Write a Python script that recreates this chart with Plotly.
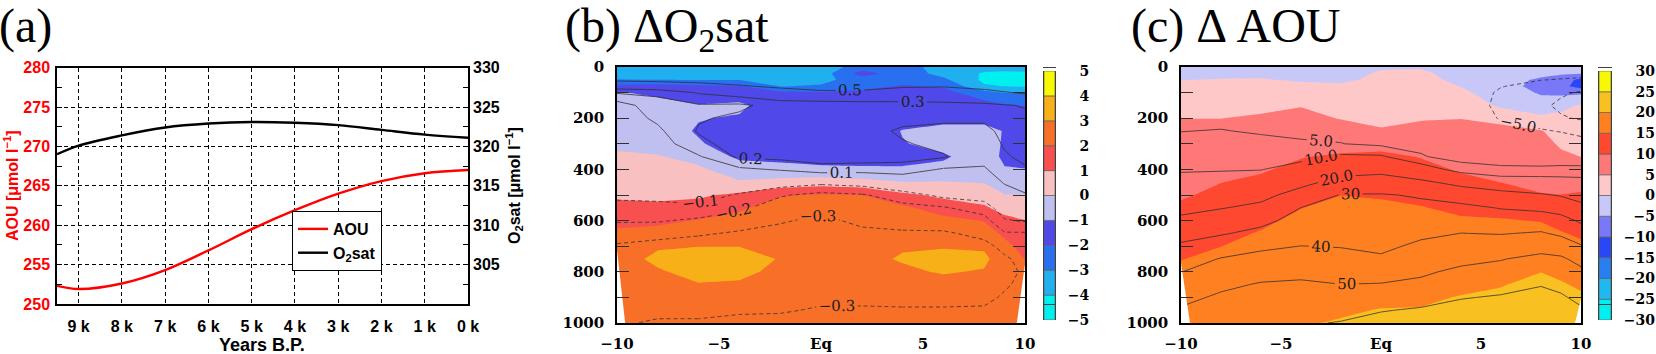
import plotly.graph_objects as go

W, H = 1656, 354

# ── (a) basin-mean time series ─────────────────────────────────────
YEARS = [9500, 9000, 8000, 7000, 6000, 5000, 4000, 3000, 2000, 1000, 0]
AOU   = [252.3, 251.9, 252.6, 254.3, 256.8, 259.5, 261.9, 264.0, 265.6, 266.6, 267.0]
O2SAT = [319.0, 320.1, 321.4, 322.4, 322.9, 323.1, 323.0, 322.7, 322.1, 321.5, 321.1]

YEAR_TICKS  = [9000, 8000, 7000, 6000, 5000, 4000, 3000, 2000, 1000, 0]
YEAR_TEXT   = ["9 k", "8 k", "7 k", "6 k", "5 k", "4 k", "3 k", "2 k", "1 k", "0 k"]
AOU_TICKS   = [250, 255, 260, 265, 270, 275, 280]
O2SAT_TICKS = [305, 310, 315, 320, 325, 330]

# ── (b),(c) latitude-depth sections ───────────────────────────────
LAT   = [-10, -8, -6, -4, -2, 0, 2, 4, 6, 8, 9, 10]
DEPTH = [0, 25, 50, 75, 100, 150, 200, 250, 300, 350, 400, 450, 500,
         550, 600, 650, 700, 750, 800, 850, 900, 950, 1000]
LAT_TICKS = [-10, -5, 0, 5, 10]
LAT_TEXT  = ["\u221210", "\u22125", "Eq", "5", "10"]
LAT_MINOR = [-8, -6, -4, -2, 0, 2, 4, 6, 8]
DEPTH_TICKS = [0, 200, 400, 600, 800, 1000]

# delta O2sat (shaded), one list per latitude, top to bottom
DO2SAT = [
    [-3.6, -3.5, -2.95, -1.7, -0.95, -0.7, -0.6, -0.5, -0.2, 0.15, 0.35, 0.6, 0.85, 1.25, 1.7, 2.2, 2.5, 2.6, 2.6, 2.6, 2.6, 2.5, 2.5],
    [-3.6, -3.5, -3.0, -1.6, -1.15, -0.75, -0.6, -0.5, -0.3, 0.05, 0.3, 0.55, 0.8, 1.2, 1.8, 2.3, 2.9, 3.2, 2.9, 2.7, 2.6, 2.5, 2.5],
    [-3.6, -3.5, -3.05, -1.8, -1.5, -0.95, -0.95, -1.1, -0.9, -0.3, 0.15, 0.55, 0.85, 1.4, 2.05, 2.5, 2.98, 3.4, 3.3, 2.95, 2.7, 2.6, 2.5],
    [-3.6, -3.5, -3.05, -1.9, -1.6, -0.8, -1.1, -1.5, -1.5, -1.2, -0.5, 0.1, 1.2, 1.85, 2.3, 2.6, 2.98, 3.4, 3.2, 2.9, 2.7, 2.6, 2.5],
    [-3.5, -3.5, -3.4, -3.05, -1.8, -1.6, -1.7, -1.7, -1.6, -1.3, -0.65, 0.3, 1.9, 2.5, 2.6, 2.8, 2.95, 2.95, 2.8, 2.7, 2.6, 2.5, 2.5],
    [-3.5, -3.5, -3.3, -2.9, -1.9, -1.6, -1.7, -1.8, -1.7, -1.4, -0.8, 0.5, 2.1, 2.5, 2.7, 2.8, 2.9, 2.9, 2.8, 2.7, 2.6, 2.5, 2.5],
    [-2.6, -1.6, -2.5, -2.3, -1.8, -1.6, -1.7, -1.75, -1.7, -1.4, -0.85, 0.3, 2.0, 2.4, 2.6, 2.75, 2.85, 2.85, 2.8, 2.7, 2.6, 2.5, 2.5],
    [-2.5, -2.5, -2.4, -1.9, -1.7, -1.6, -1.5, -0.95, -1.05, -1.3, -0.9, 0.02, 1.2, 2.2, 2.6, 2.8, 2.95, 3.05, 2.9, 2.75, 2.6, 2.5, 2.5],
    [-3.5, -3.3, -2.8, -2.1, -1.7, -1.5, -1.3, -0.7, -0.75, -1.1, -0.8, 0.05, 0.8, 1.5, 2.3, 2.7, 2.95, 3.2, 3.05, 2.8, 2.7, 2.6, 2.5],
    [-3.6, -4.1, -4.2, -3.9, -2.6, -1.6, -1.3, -0.7, -0.6, -0.6, -0.4, -0.05, 0.5, 1.15, 1.95, 2.5, 2.9, 3.15, 2.95, 2.75, 2.65, 2.55, 2.5],
    [-3.6, -4.2, -4.3, -4.02, -3.02, -1.9, -1.4, -1.05, -1.1, -1.15, -0.95, -0.5, 0.02, 0.6, 1.3, 1.8, 2.3, 2.6, 2.7, 2.7, 2.65, 2.55, 2.5],
    [-3.7, -4.1, -4.3, -4.1, -3.1, -2.02, -1.5, -1.4, -1.35, -1.25, -0.98, -0.5, 0.02, 0.5, 1.02, 1.3, 1.65, 1.97, 2.3, 2.5, 2.55, 2.5, 2.5],
]
# contour-line field drawn over (b)
DO2SAT_LINES = [
    [0.75, 0.65, 0.53, 0.37, 0.21, 0.05, 0.04, 0.03, 0.02, 0.01, -0.01, -0.04, -0.08, -0.13, -0.19, -0.26, -0.31, -0.33, -0.34, -0.34, -0.33, -0.32, -0.31],
    [0.75, 0.65, 0.54, 0.4, 0.22, 0.16, 0.12, 0.08, 0.05, 0.02, 0.0, -0.03, -0.07, -0.13, -0.19, -0.27, -0.33, -0.36, -0.37, -0.36, -0.34, -0.32, -0.29],
    [0.75, 0.66, 0.56, 0.43, 0.31, 0.19, 0.19, 0.21, 0.17, 0.09, 0.04, -0.01, -0.06, -0.12, -0.22, -0.29, -0.34, -0.37, -0.38, -0.37, -0.35, -0.32, -0.29],
    [0.75, 0.68, 0.6, 0.48, 0.36, 0.18, 0.22, 0.25, 0.25, 0.22, 0.08, -0.03, -0.11, -0.18, -0.26, -0.31, -0.36, -0.39, -0.4, -0.38, -0.35, -0.31, -0.28],
    [0.78, 0.7, 0.62, 0.54, 0.4, 0.24, 0.25, 0.25, 0.25, 0.23, 0.11, -0.04, -0.19, -0.25, -0.29, -0.33, -0.36, -0.38, -0.39, -0.37, -0.34, -0.31, -0.27],
    [0.8, 0.72, 0.64, 0.56, 0.47, 0.22, 0.24, 0.25, 0.25, 0.25, 0.16, -0.07, -0.23, -0.28, -0.32, -0.35, -0.37, -0.38, -0.38, -0.36, -0.32, -0.29, -0.27],
    [0.8, 0.7, 0.62, 0.55, 0.47, 0.23, 0.24, 0.25, 0.25, 0.25, 0.15, -0.05, -0.21, -0.26, -0.28, -0.32, -0.35, -0.37, -0.37, -0.35, -0.32, -0.29, -0.27],
    [0.78, 0.7, 0.6, 0.52, 0.42, 0.25, 0.24, 0.18, 0.21, 0.24, 0.15, 0.02, -0.15, -0.23, -0.27, -0.31, -0.35, -0.37, -0.37, -0.35, -0.33, -0.29, -0.28],
    [0.78, 0.72, 0.63, 0.51, 0.42, 0.26, 0.22, 0.17, 0.17, 0.21, 0.09, 0.03, -0.07, -0.21, -0.26, -0.31, -0.34, -0.36, -0.36, -0.35, -0.33, -0.29, -0.28],
    [0.8, 0.72, 0.62, 0.55, 0.45, 0.27, 0.22, 0.17, 0.15, 0.13, 0.09, 0.03, -0.05, -0.15, -0.24, -0.28, -0.32, -0.35, -0.35, -0.34, -0.32, -0.29, -0.27],
    [0.8, 0.72, 0.64, 0.56, 0.49, 0.29, 0.25, 0.23, 0.21, 0.19, 0.15, 0.11, 0.05, -0.04, -0.11, -0.21, -0.28, -0.31, -0.32, -0.31, -0.29, -0.27, -0.26],
    [0.8, 0.73, 0.66, 0.58, 0.52, 0.31, 0.27, 0.25, 0.23, 0.22, 0.19, 0.15, 0.09, 0.0, -0.09, -0.21, -0.26, -0.28, -0.29, -0.28, -0.27, -0.26, -0.25],
]
# delta AOU (shaded)
DAOU = [
    [-2.0, -1.2, -0.1, 0.8, 1.6, 3.2, 4.95, 6.0, 6.8, 7.5, 8.2, 8.9, 9.6, 10.6, 11.7, 12.8, 13.9, 14.9, 15.8, 16.5, 17.2, 17.8, 18.3],
    [-1.8, -1.0, 0.2, 1.2, 2.0, 3.4, 4.95, 6.2, 7.2, 8.0, 9.0, 9.95, 10.8, 11.9, 12.9, 14.0, 14.95, 15.9, 16.7, 17.4, 18.1, 18.7, 19.2],
    [-1.8, -1.0, 0.3, 1.3, 2.2, 3.9, 5.6, 6.8, 7.9, 8.9, 9.6, 10.7, 11.9, 13.0, 14.2, 15.3, 16.2, 16.9, 17.5, 18.0, 18.5, 18.9, 19.3],
    [-2.0, -1.4, -0.5, 1.0, 2.3, 4.8, 6.2, 7.3, 8.5, 9.8, 11.0, 12.1, 13.4, 14.9, 15.9, 16.7, 17.4, 18.0, 18.5, 18.9, 19.3, 19.6, 19.9],
    [-2.5, -1.8, -0.8, 0.8, 1.6, 2.9, 4.8, 6.8, 8.6, 10.5, 11.8, 13.2, 14.95, 16.2, 17.0, 17.6, 18.1, 18.6, 19.0, 19.3, 19.6, 19.85, 20.1],
    [-0.5, 0.6, 1.0, 1.3, 1.7, 2.6, 3.7, 5.5, 8.5, 11.0, 12.2, 13.4, 14.6, 15.8, 16.8, 17.5, 18.1, 18.6, 19.0, 19.35, 19.7, 20.05, 20.4],
    [-0.3, 0.7, 1.1, 1.5, 2.0, 3.0, 4.6, 6.5, 8.0, 9.8, 11.2, 12.4, 13.9, 15.2, 16.3, 17.1, 17.8, 18.4, 18.9, 19.3, 19.7, 20.1, 20.5],
    [-2.0, -1.5, -0.9, -0.1, 1.0, 3.0, 4.9, 6.3, 7.5, 8.4, 9.6, 11.0, 12.4, 14.1, 15.5, 16.6, 17.5, 18.3, 18.9, 19.5, 20.1, 20.6, 21.0],
    [-3.0, -3.4, -3.5, -3.2, -2.6, -0.8, 3.8, 6.2, 7.2, 8.0, 8.9, 9.95, 11.5, 13.6, 15.3, 16.6, 17.7, 18.5, 19.2, 19.85, 20.5, 21.0, 21.4],
    [-3.0, -4.0, -5.6, -6.5, -5.5, -3.0, 1.0, 5.3, 6.5, 7.4, 8.2, 9.1, 10.2, 12.5, 14.8, 16.5, 17.8, 18.9, 19.95, 20.8, 21.3, 21.7, 22.0],
    [-3.0, -4.5, -7.0, -8.5, -6.0, -1.5, 1.5, 3.0, 4.4, 5.8, 7.3, 8.7, 10.05, 11.8, 13.6, 15.3, 16.8, 18.0, 19.3, 20.3, 20.9, 21.4, 21.8],
    [-3.0, -4.5, -11.5, -12.0, -6.0, 0.5, 1.5, 2.5, 3.6, 4.95, 6.6, 8.5, 10.5, 12.0, 13.2, 14.4, 15.7, 17.0, 18.3, 19.5, 20.5, 21.0, 21.4],
]
# contour-line field drawn over (c)
DAOU_LINES = [
    [0, 0, 0.5, 1, 1.5, 2.5, 3.5, 4.9, 6.5, 8.0, 9.4, 12.0, 15.0, 18.0, 21.5, 26.5, 31.5, 35.5, 39.8, 44.0, 47.5, 51.0, 54.0],
    [0, 0, 0.5, 1, 1.5, 2.6, 3.8, 5.2, 6.7, 8.1, 9.5, 13.0, 16.5, 19.6, 24.5, 29.2, 35.0, 40.5, 44.5, 48.0, 51.5, 55.0, 58.0],
    [0, 0, 0.5, 1, 1.5, 2.5, 3.5, 4.5, 6.3, 8.0, 9.8, 13.5, 17.5, 22.0, 27.5, 32.5, 38.5, 42.5, 46.5, 50.8, 54.0, 57.0, 59.5],
    [0, 0, 0.5, 1, 1.5, 2.4, 3.2, 4.1, 5.5, 8.3, 12.5, 17.5, 23.5, 30.1, 33.5, 36.8, 40.1, 43.5, 47.5, 51.5, 55.0, 57.5, 59.0],
    [0, 0, 0.5, 1, 1.5, 2.3, 3.1, 4.0, 5.1, 11.0, 16.5, 23.0, 30.5, 33.0, 35.0, 37.2, 39.6, 43.0, 46.5, 50.1, 53.5, 57.0, 60.5],
    [0, 0.2, 0.5, 1, 1.5, 2.3, 3.1, 3.4, 4.0, 10.7, 17.5, 24.0, 30.6, 32.5, 34.2, 35.8, 37.8, 41.5, 46.0, 50.5, 55.0, 59.5, 63.0],
    [0, 0.2, 0.5, 0.8, 1.2, 1.8, 2.4, 3.0, 3.8, 5.4, 13.5, 21.5, 29.2, 32.0, 34.5, 38.0, 42.0, 45.5, 48.5, 52.0, 56.5, 61.0, 64.0],
    [0, 0, -0.5, -1, -1.5, -2.0, -1.5, -0.5, 1.0, 3.0, 7.5, 17.5, 25.0, 32.5, 36.5, 40.1, 43.5, 47.5, 52.0, 56.0, 59.5, 63.0, 66.0],
    [-2.0, -3.0, -4.0, -4.8, -5.8, -6.2, -5.4, -3.5, -1.0, 1.5, 6.5, 13.0, 23.5, 29.5, 35.0, 39.6, 44.5, 49.6, 53.0, 57.0, 60.8, 64.0, 67.0],
    [-2.0, -3.5, -4.9, -6.5, -8.0, -9.0, -7.5, -4.5, -1.5, 1.5, 6.2, 13.0, 20.8, 28.0, 35.0, 40.8, 46.5, 52.5, 56.0, 59.5, 63.0, 66.0, 68.5],
    [-2.0, -3.8, -5.2, -7.5, -9.3, -11.0, -9.5, -5.3, -2.0, 1.5, 6.5, 12.5, 19.3, 26.5, 33.0, 38.5, 45.0, 51.5, 55.0, 58.0, 61.0, 64.0, 66.5],
    [-2.0, -4.0, -5.5, -8.0, -10.5, -12.5, -10.5, -6.5, -3.0, 1.0, 6.6, 12.0, 16.5, 22.5, 28.8, 34.0, 40.8, 47.0, 52.0, 55.0, 58.0, 61.0, 63.5],
]

B_LEVELS = [-5, -4, -3, -2, -1, 0, 1, 2, 3, 4, 5]
B_COLORS = ["#00f0f0", "#20b0f0", "#2870f0", "#5048e8", "#c0c0f0",
            "#f8c0c0", "#f85050", "#f87028", "#f8b018", "#f8f800"]
C_LEVELS = [-30, -25, -20, -15, -10, -5, 0, 5, 10, 15, 20, 25, 30]
C_COLORS = ["#00f0f0", "#20b8f0", "#2880f0", "#2848f8", "#7878f8", "#c8c8f8",
            "#ffc8c8", "#ff7878", "#ff4830", "#ff8020", "#f8c020", "#f8f800"]

# line level -> (label format, latitude span holding the label)
B_LINES = {0.5: (".1f", (-2, 8)), 0.3: (".1f", (0, 9)), 0.2: (".1f", (-10, 0)),
           0.1: (".1f", (-4, 6)), -0.1: (".1f", (-10, 0)), -0.2: (".1f", (-10, 2)),
           -0.3: (".1f", (-6, 4))}
C_LINES = {60: (None, None), 50: (".0f", (-6, 2)), 40: (".0f", (-8, 2)),
           30: (".0f", (-8, 2)), 20: (".1f", (-8, 2)), 10: (".1f", (-8, 2)),
           5: (".1f", (-8, 2)), -5: (".1f", (-10, 10)), -10: (None, None)}

# sea floor (white) at the section corners
B_FLOOR = [([-10, -9.6, -10], [715, 1000, 1000]), ([10, 9.6, 10], [770, 1000, 1000])]
C_FLOOR = [([-10, -9.55, -10], [766, 1000, 1000]), ([10, 9.7, 10], [905, 1000, 1000])]

# ── helpers ───────────────────────────────────────────────────────
SANS = "Liberation Sans"
SERIF = "DejaVu Serif"


def by_depth(cols):
    return [list(r) for r in zip(*cols)]


def fill_trace(cols, levels, colors, xa, ya):
    n = len(colors)
    return go.Contour(
        x=LAT, y=DEPTH, z=by_depth(cols), xaxis=xa, yaxis=ya,
        autocontour=False,
        contours=dict(start=levels[1], end=levels[-2], size=levels[1] - levels[0],
                      coloring="fill", showlines=False),
        colorscale=[[i / (n - 1), c] for i, c in enumerate(colors)],
        line=dict(width=0, smoothing=0),
        showscale=False, hoverinfo="skip", showlegend=False,
    )


def line_traces(cols, level, fmt, span, xa, ya):
    # the labelled part of a line is its own trace so plotly puts the label there
    z = by_depth(cols)
    last = len(LAT) - 1
    if span is None:
        pieces = [(0, last, False)]
    else:
        ia, ib = LAT.index(span[0]), LAT.index(span[1])
        pieces = [(ia, ib, True)]
        if ia > 0:
            pieces.append((0, ia, False))
        if ib < last:
            pieces.append((ib, last, False))
    out = []
    for i0, i1, lab in pieces:
        out.append(go.Contour(
            x=LAT[i0:i1 + 1], y=DEPTH, z=[r[i0:i1 + 1] for r in z], xaxis=xa, yaxis=ya,
            autocontour=False,
            contours=dict(start=level, end=level, size=1, coloring="none",
                          showlabels=lab and fmt is not None, labelformat=fmt or ".1f",
                          labelfont=dict(family=SERIF, size=15, color="#202020")),
            line=dict(color="#303030", width=0.8, smoothing=0,
                      dash="4px,3px" if level < 0 else "solid"),
            showscale=False, hoverinfo="skip", showlegend=False,
        ))
    return out


def key_label(v, ndig):
    s = str(abs(v))
    hide = "0" * (ndig - len(s)) + ("" if v < 0 else "\u2212")
    pad = '<span style="color:white">%s</span>' % hide if hide else ""
    return pad + ("\u2212" if v < 0 else "") + s


fig = go.Figure()

# (a)
fig.add_trace(go.Scatter(x=YEARS, y=AOU, mode="lines", name="AOU",
                         line=dict(color="#ff0000", width=2.4, shape="spline"),
                         xaxis="x", yaxis="y", hoverinfo="skip"))
fig.add_trace(go.Scatter(x=YEARS, y=O2SAT, mode="lines", name="O<sub>2</sub>sat",
                         line=dict(color="#000000", width=2.4, shape="spline"),
                         xaxis="x", yaxis="y2", hoverinfo="skip"))

# (b)
fig.add_trace(fill_trace(DO2SAT, B_LEVELS, B_COLORS, "x2", "y3"))
for lv, (fmt, span) in B_LINES.items():
    fig.add_traces(line_traces(DO2SAT_LINES, lv, fmt, span, "x2", "y3"))
for lon, dep in B_FLOOR:
    fig.add_trace(go.Scatter(x=lon, y=dep, fill="toself", fillcolor="white", mode="lines",
                             line=dict(width=0), xaxis="x2", yaxis="y3",
                             hoverinfo="skip", showlegend=False))

# (c)
fig.add_trace(fill_trace(DAOU, C_LEVELS, C_COLORS, "x3", "y4"))
for lv, (fmt, span) in C_LINES.items():
    fig.add_traces(line_traces(DAOU_LINES, lv, fmt, span, "x3", "y4"))
for lon, dep in C_FLOOR:
    fig.add_trace(go.Scatter(x=lon, y=dep, fill="toself", fillcolor="white", mode="lines",
                             line=dict(width=0), xaxis="x3", yaxis="y4",
                             hoverinfo="skip", showlegend=False))

# colour keys
for levels, colors, xa, ya in [(B_LEVELS, B_COLORS, "x4", "y5"), (C_LEVELS, C_COLORS, "x5", "y6")]:
    fig.add_trace(go.Bar(
        x=[0] * len(colors), y=[b - a for a, b in zip(levels[:-1], levels[1:])],
        base=levels[:-1], width=1, xaxis=xa, yaxis=ya,
        marker=dict(color=colors, line=dict(color="#606060", width=0.7)),
        hoverinfo="skip", showlegend=False,
    ))

# ── layout ────────────────────────────────────────────────────────
GRID = dict(showgrid=True, gridcolor="black", griddash="4px,3px", gridwidth=1)
FRAME = dict(showline=True, linecolor="black", linewidth=1.5, zeroline=False, automargin=False)
SEC_TOP, SEC_BOT = 1 - 67 / H, 1 - 323 / H
TICKFONT_SEC = dict(family=SERIF, size=15, color="black", weight="bold")
TICKFONT_KEY = dict(family=SERIF, size=14, color="black", weight="bold")


def sec_x(dom, anchor):
    return dict(domain=dom, range=[-10, 10], tickvals=LAT_TICKS, ticktext=LAT_TEXT,
                ticks="", showgrid=False, mirror=True, anchor=anchor,
                tickfont=TICKFONT_SEC, ticklabelstandoff=6, **FRAME)


def sec_x_ticks(over, anchor):
    return dict(overlaying=over, anchor=anchor, range=[-10, 10], tickvals=LAT_MINOR,
                ticks="inside", ticklen=12, tickwidth=1, tickcolor="#303030",
                showticklabels=False, showgrid=False, zeroline=False, showline=False,
                mirror="ticks", automargin=False)


def sec_y(anchor):
    return dict(domain=[SEC_BOT, SEC_TOP], range=[1000, 0], tickvals=DEPTH_TICKS,
                ticks="inside", ticklen=12, tickwidth=1, tickcolor="#303030",
                minor=dict(dtick=100, ticks="inside", ticklen=12, tickwidth=1, tickcolor="#303030"),
                showgrid=False, mirror="ticks", anchor=anchor,
                tickfont=TICKFONT_SEC, ticklabelstandoff=8, **FRAME)


def key_x(dom):
    return dict(domain=dom, range=[-0.5, 0.5], showticklabels=False, ticks="",
                showgrid=False, zeroline=False, showline=True, linecolor="#404040",
                linewidth=1, mirror=True, automargin=False)


def key_y(levels, anchor, ndig):
    return dict(domain=[1 - 320 / H, 1 - 71 / H], range=[levels[0], levels[-1]],
                side="right", anchor=anchor, tickvals=levels,
                ticktext=[key_label(v, ndig) for v in levels],
                ticks="outside", ticklen=9, tickcolor="rgba(0,0,0,0)",
                showgrid=False, zeroline=False, showline=True, linecolor="#404040",
                linewidth=1, mirror=True, tickfont=TICKFONT_KEY, automargin=False)


fig.update_layout(
    template="none",
    width=W, height=H, margin=dict(l=0, r=0, t=0, b=0, autoexpand=False),
    paper_bgcolor="white", plot_bgcolor="white",
    hovermode=False, barmode="overlay",
    xaxis=dict(domain=[57 / W, 468 / W], range=[9500, 0], tickvals=YEAR_TICKS,
               ticktext=YEAR_TEXT, ticks="", mirror=True, anchor="y",
               tickfont=dict(family=SANS, size=16, color="black", weight="bold"),
               ticklabelstandoff=7, **GRID, **FRAME),
    yaxis=dict(domain=[1 - 304 / H, 1 - 67.6 / H], range=[250, 280], tickvals=AOU_TICKS,
               ticks="", mirror="ticks", anchor="x",
               minor=dict(dtick=2.5, ticks="inside", ticklen=5, tickcolor="black"),
               tickfont=dict(family=SANS, size=16, color="#ff0000", weight="bold"),
               ticklabelstandoff=2, **GRID, **FRAME),
    yaxis2=dict(overlaying="y", side="right", anchor="x", range=[300, 330],
                tickvals=O2SAT_TICKS, ticks="", showgrid=False, zeroline=False,
                showline=False, ticklabelstandoff=4, automargin=False,
                tickfont=dict(family=SANS, size=16, color="black", weight="bold")),
    xaxis2=sec_x([617 / W, 1025 / W], "y3"),
    yaxis3=sec_y("x2"),
    xaxis3=sec_x([1181 / W, 1581 / W], "y4"),
    yaxis4=sec_y("x3"),
    xaxis4=key_x([1044 / W, 1055 / W]),
    yaxis5=key_y(B_LEVELS, "x4", 1),
    xaxis5=key_x([1599 / W, 1611 / W]),
    yaxis6=key_y(C_LEVELS, "x5", 2),
    xaxis6=sec_x_ticks("x2", "y3"),
    xaxis7=sec_x_ticks("x3", "y4"),
    legend=dict(x=292 / W, y=1 - 211 / H, xanchor="left", yanchor="top",
                bgcolor="white", bordercolor="black", borderwidth=1,
                font=dict(family=SANS, size=16, color="black", weight="bold"),
                itemwidth=30, tracegroupgap=0),
)

ANN = []


def note(text, x, y, size, color="black", family=SANS, weight="bold",
         angle=0, xanchor="center", yanchor="middle"):
    ANN.append(dict(text=text, x=x, y=y, xref="paper", yref="paper",
                    xanchor=xanchor, yanchor=yanchor, textangle=angle, showarrow=False,
                    font=dict(family=family, size=size, color=color, weight=weight)))


# axis titles of (a)
note("AOU [\u03bcmol l<sup>\u22121</sup>]", 11 / W, 1 - 186 / H, 16, color="#ff0000", angle=-90)
note("O<sub>2</sub>sat [\u03bcmol l<sup>\u22121</sup>]", 514 / W, 1 - 186 / H, 16, angle=-90)
note("Years B.P.", 262 / W, 1 - 345 / H, 18)

# panel titles
TF = "Liberation Serif"
TY = 1 + 3 / H
note("(a)", -3 / W, TY, 48, family=TF, weight="normal", xanchor="left", yanchor="top")
note("(b) \u0394O<sub>2</sub>sat", 563 / W, TY, 48, family=TF, weight="normal",
     xanchor="left", yanchor="top")
note("(c) \u0394 AOU", 1129 / W, TY, 48, family=TF, weight="normal",
     xanchor="left", yanchor="top")

fig.update_layout(annotations=ANN)

# page margin off so the figure sits at the window's top-left corner
fig.write_html("out.html", config={"displayModeBar": False},
               post_script="document.body.style.margin='0';")
